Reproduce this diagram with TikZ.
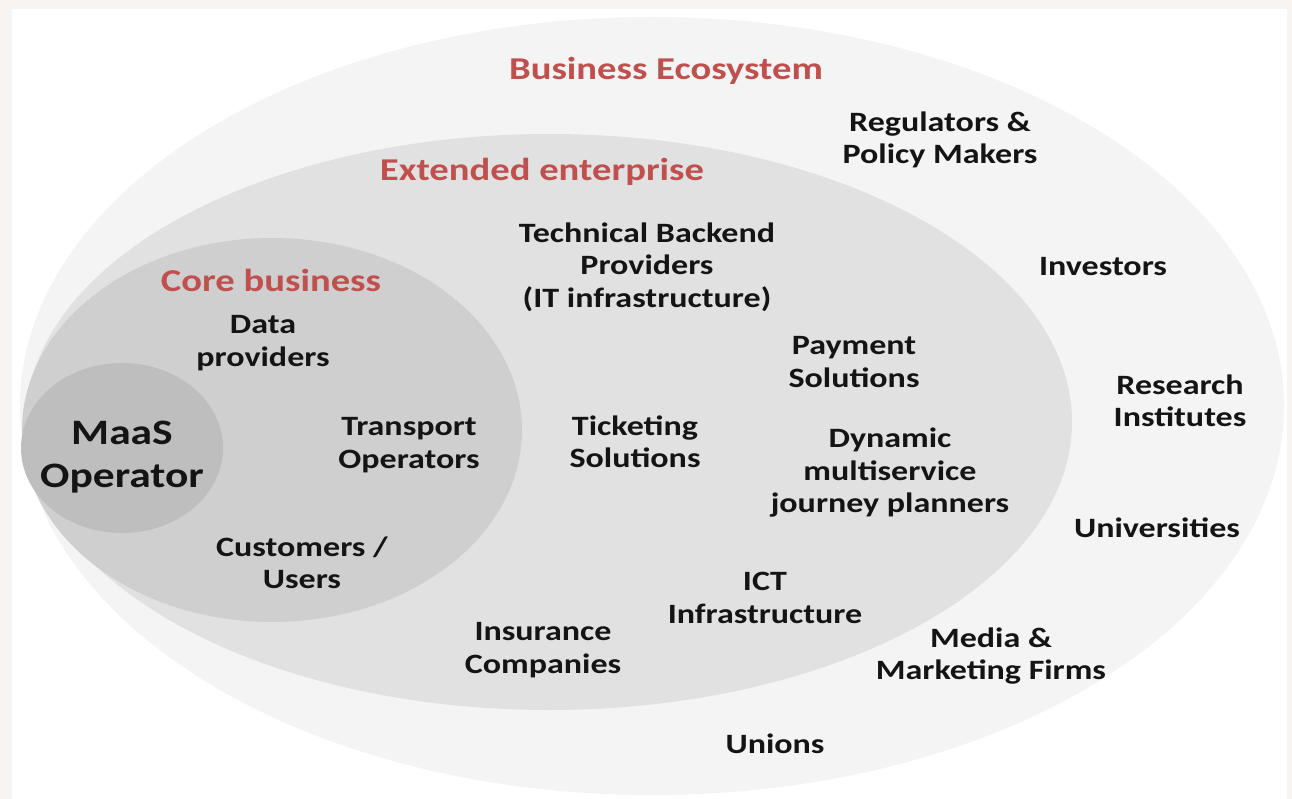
\documentclass[tikz,border=0pt]{standalone}
\usepackage{fontspec}
\usetikzlibrary{shapes.geometric}
\newfontfamily\lab{Carlito}[FakeStretch=1.215]
\definecolor{framecol}{RGB}{248,244,242}
\definecolor{ecocol}{RGB}{244,244,244}
\definecolor{extcol}{RGB}{225,225,225}
\definecolor{corecol}{RGB}{207,207,207}
\definecolor{maascol}{RGB}{190,190,190}
\definecolor{redlab}{RGB}{192,80,77}
\definecolor{txt}{RGB}{20,20,20}
\tikzset{
  zone/.style={ellipse, draw=none, inner sep=0pt},
  actor/.style={align=center, text=txt, inner sep=0pt,
    font=\lab\bfseries\fontsize{28}{32.5}\selectfont},
  title/.style={align=center, text=redlab, inner sep=0pt,
    font=\lab\bfseries\fontsize{31.8}{36}\selectfont},
}
\begin{document}
\begin{tikzpicture}[x=1pt,y=-1pt]
\useasboundingbox (0,0) rectangle (1292,799);
\fill[framecol] (0,0) rectangle (1292,799);
\fill[white] (12,9) rectangle (1287,799);
\node[zone, fill=ecocol, minimum width=1264pt, minimum height=778pt] (eco) at (652,406) {};
\node[zone, fill=extcol, minimum width=1046pt, minimum height=576pt] (ext) at (549,422) {};
\node[zone, fill=corecol, minimum width=500pt, minimum height=384pt] (core) at (272,430) {};
\node[zone, fill=maascol, minimum width=202pt, minimum height=170pt] (maas) at (122,448) {};

\node[title] (tEco) at (666,71) {Business Ecosystem};
\node[title] (tExt) at (542,172) {Extended enterprise};
\node[title] (tCore) at (271,280) {Core business};

\node[actor, font=\lab\bfseries\fontsize{35.8}{43}\selectfont] (lMaas) at (122,457) {MaaS\\Operator};

\node[actor] (reg) at (940,140) {Regulators \&\\Policy Makers};
\node[actor] (inv) at (1103,267) {Investors};
\node[actor] (res) at (1180,401) {Research\\Institutes};
\node[actor] (uni) at (1157,528) {Universities};
\node[actor] (med) at (991,656) {Media \&\\Marketing Firms};
\node[actor] (uns) at (775,744) {Unions};

\node[actor] (tech) at (647,267) {Technical Backend\\Providers\\(IT infrastructure)};
\node[actor] (pay) at (854,362) {Payment\\Solutions};
\node[actor] (tick) at (635,442) {Ticketing\\Solutions};
\node[actor] (dyn) at (890,473) {Dynamic\\multiservice\\journey planners};
\node[actor] (ict) at (765,598) {ICT\\Infrastructure};
\node[actor] (ins) at (543,650) {Insurance\\Companies};

\node[actor] (data) at (263,343) {Data\\providers};
\node[actor] (trans) at (409,445) {Transport\\Operators};
\node[actor] (cust) at (302,563) {Customers /\\Users};
\end{tikzpicture}
\end{document}
